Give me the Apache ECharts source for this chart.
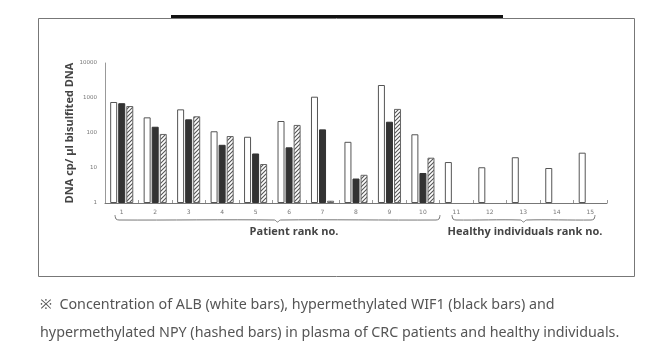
<!DOCTYPE html>
<html>
<head>
<meta charset="utf-8">
<script src="https://cdn.jsdelivr.net/npm/echarts@6/dist/echarts.min.js"></script>
<style>
  html, body { margin: 0; padding: 0; background: #fff; }
  #chart { width: 650px; height: 352px; }
</style>
</head>
<body>
<div id="chart"></div>
<script>
// rank numbers: 1-10 patients, 11-15 healthy
const ranks = ['1', '2', '3', '4', '5', '6', '7', '8', '9', '10', '11', '12', '13', '14', '15'];
// ALB (white bars)
const albValues = [769, 280, 474, 112, 78, 220, 1090, 56, 2350, 92, 14.8, 10.5, 20.3, 10, 27.4];
// hypermethylated WIF1 (black bars)
const wif1Values = [710, 151, 246, 46, 26, 39, 127, 5.0, 210, 7.2, null, null, null, null, null];
// hypermethylated NPY (hashed bars)
const npyValues = [590, 94, 300, 82, 13, 170, 1.16, 6.4, 488, 19.7, null, null, null, null, null];
const yTicks = [1, 10, 100, 1000, 10000];

// hatch pattern for NPY bars
const hatch = document.createElement('canvas');
hatch.width = 4;
hatch.height = 4;
const hctx = hatch.getContext('2d');
hctx.fillStyle = '#fff';
hctx.fillRect(0, 0, 4, 4);
hctx.strokeStyle = '#555';
hctx.lineWidth = 1.1;
hctx.beginPath();
hctx.moveTo(0, 4); hctx.lineTo(4, 0);
hctx.moveTo(-1, 1); hctx.lineTo(1, -1);
hctx.moveTo(3, 5); hctx.lineTo(5, 3);
hctx.stroke();

const chart = echarts.init(document.getElementById('chart'));

// curly bracket under a range of categories
function bracket(x1, x2, y) {
  const mid = (x1 + x2) / 2;
  return {
    type: 'polyline',
    shape: {
      points: [[x1, y - 5], [x1 + 1, y - 1], [x1 + 4, y], [mid - 3, y], [mid, y + 2],
               [mid + 3, y], [x2 - 4, y], [x2 - 1, y - 1], [x2, y - 5]],
      smooth: 0.3
    },
    style: { stroke: '#777', lineWidth: 1, fill: null },
    silent: true
  };
}

const option = {
  animation: false,
  grid: { left: 105, right: 43, top: 63, bottom: 149 },
  xAxis: {
    type: 'category',
    data: ranks,
    axisLine: { lineStyle: { color: '#777', width: 1 } },
    axisTick: { show: true, inside: true, length: 3, lineStyle: { color: '#999' } },
    axisLabel: { fontSize: 6, color: '#777', margin: 6, fontFamily: 'DejaVu Sans' }
  },
  yAxis: {
    type: 'log',
    min: 1,
    max: 10000,
    logBase: 10,
    name: 'DNA cp/ µl bisulfited DNA',
    nameLocation: 'middle',
    nameRotate: 90,
    nameGap: 30,
    nameMoveOverlap: false,
    nameTextStyle: { fontSize: 11, fontWeight: 'bold', color: '#444', fontFamily: 'Open Sans' },
    axisLine: { show: true, lineStyle: { color: '#999', width: 1 } },
    axisTick: { show: false },
    splitLine: { show: false },
    axisLabel: {
      fontSize: 5.5, color: '#777', margin: 8, fontFamily: 'DejaVu Sans',
      formatter: v => (yTicks.indexOf(Math.round(v)) >= 0 ? String(Math.round(v)) : '')
    }
  },
  series: [
    {
      name: 'ALB', type: 'bar', data: albValues, barWidth: 7, barGap: '15%',
      itemStyle: { color: '#fff', borderColor: '#555', borderWidth: 1 }
    },
    {
      name: 'WIF1', type: 'bar', data: wif1Values, barWidth: 7, barGap: '15%',
      itemStyle: { color: '#333', borderColor: '#333', borderWidth: 1 }
    },
    {
      name: 'NPY', type: 'bar', data: npyValues, barWidth: 7, barGap: '15%',
      itemStyle: { color: { image: hatch, repeat: 'repeat' }, borderColor: '#666', borderWidth: 1 }
    }
  ],
  graphic: [
    // figure frame
    { type: 'rect', shape: { x: 38.5, y: 18.5, width: 596, height: 258 },
      style: { fill: null, stroke: '#777', lineWidth: 1 }, silent: true },
    { type: 'rect', shape: { x: 171, y: 15, width: 332, height: 3 },
      style: { fill: '#111' }, silent: true },
    bracket(115, 440, 220),
    bracket(452, 595, 220),
    { type: 'text', x: 294, y: 232,
      style: { text: 'Patient rank no.', fontSize: 11, fontWeight: 'bold', fill: '#444',
               fontFamily: 'Open Sans', textAlign: 'center', textVerticalAlign: 'middle' } },
    { type: 'text', x: 525, y: 232,
      style: { text: 'Healthy individuals rank no.', fontSize: 11, fontWeight: 'bold', fill: '#444',
               fontFamily: 'Open Sans', textAlign: 'center', textVerticalAlign: 'middle' } },
    // caption
    { type: 'text', x: 40, y: 305,
      style: { text: '※  Concentration of ALB (white bars), hypermethylated WIF1 (black bars) and',
               fontSize: 14.3, fill: '#555', fontFamily: 'Noto Sans', textVerticalAlign: 'middle' } },
    { type: 'text', x: 40, y: 333,
      style: { text: 'hypermethylated NPY (hashed bars) in plasma of CRC patients and healthy individuals.',
               fontSize: 14.3, fill: '#555', fontFamily: 'Noto Sans', textVerticalAlign: 'middle' } }
  ]
};

chart.setOption(option);
</script>
</body>
</html>
